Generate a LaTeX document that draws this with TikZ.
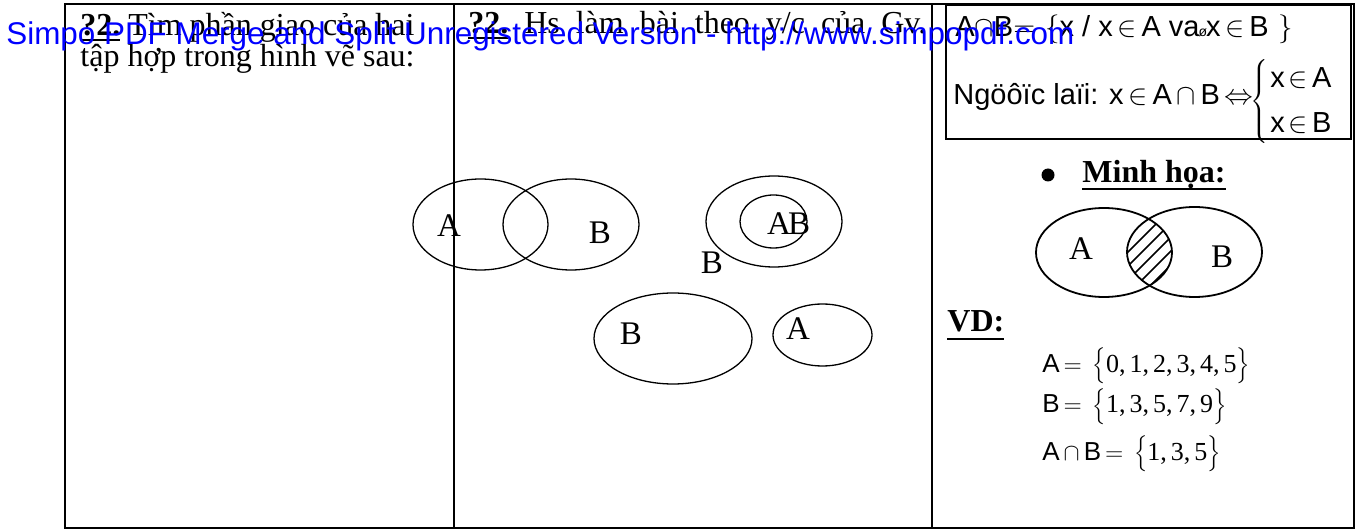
\documentclass[tikz,border=0pt]{standalone}
\usepackage{fontspec}
\setmainfont{Liberation Serif}
\newfontfamily\arialf{Liberation Sans}
\usetikzlibrary{shapes.geometric}
\definecolor{wmblue}{RGB}{0,0,255}
% underlined box: #1 = depth of the rule below the baseline
\newcommand\ulb[2]{\setbox0\hbox{#2}\rlap{\rule[-#1]{\wd0}{0.9pt}}\box0\relax}
\begin{document}
\begin{tikzpicture}[x=0.5pt,y=-0.5pt,
  grid/.style={line width=1.25pt},
  framebox/.style={line width=1pt},
  venn/.style={draw, ellipse, inner sep=0, line width=0.65pt},
  venntwo/.style={draw, ellipse, inner sep=0, line width=0.9pt},
  txt/.style={anchor=base west, inner sep=0, font=\fontsize{16}{19}\selectfont},
  lbl/.style={anchor=base, inner sep=0, font=\fontsize{16.5}{19}\selectfont},
  sx/.style={anchor=base west, inner sep=0, font=\arialf\fontsize{14.5}{17}\selectfont},
  eq/.style={anchor=base west, inner sep=0, font=\fontsize{13}{16}\selectfont},
  wm/.style={anchor=base west, inner sep=0, text=wmblue, font=\arialf\fontsize{15.7}{18}\selectfont}]
\useasboundingbox (0,0) rectangle (1356,529);

% table frame and column rules
\draw[grid] (65,4) rectangle (1354,528);
\draw[grid] (454,4) -- (454,528);
\draw[grid] (932,4) -- (932,528);

% column 1
\node[txt] (q1a) at (80,36) {\ulb{2.5pt}{\textbf{?2.}} Tìm phần giao của hai};
\node[txt] (q1b) at (80,67) {tập hợp trong hình vẽ sau:};

% column 2
\node[txt] (q2) at (468,34) {\makebox[229pt][s]{\ulb{2.5pt}{\textbf{?2.}} Hs làm bài theo y/c của Gv.}};

\node[venn, minimum width=67.5pt, minimum height=45.5pt] (eA1) at (480.5,224.5) {};
\node[venn, minimum width=68pt, minimum height=45.5pt] (eB1) at (571,224.5) {};
\node[venn, minimum width=68pt, minimum height=45.5pt] (eBo) at (774,221.5) {};
\node[venn, minimum width=33.5pt, minimum height=26.5pt] (eAi) at (773.5,221.5) {};
\node[venn, minimum width=79pt, minimum height=45.5pt] (eB2) at (673,338.5) {};
\node[venn, minimum width=49.5pt, minimum height=31pt] (eA2) at (822.5,335) {};

\node[lbl] (lA1) at (449,237) {A};
\node[lbl] (lB1) at (600,244) {B};
\node[lbl] (lAi) at (779,235) {A};
\node[lbl] (lBi) at (799,235) {B};
\node[lbl] (lBo) at (712,274) {B};
\node[lbl] (lB2) at (631,345) {B};
\node[lbl] (lA2) at (798,340) {A};

% column 3: definition box
\draw[framebox] (946,5) rectangle (1351,139);
\node[sx] (def) at (955,37) {A$\cap$B$=$\kern5pt$\Bigl\{$x / x$\,\in\,$A va\kern-0.5pt{\scriptsize ø}\kern-0.5pt x$\,\in\,$B\kern5pt$\Bigr\}$};
\node[sx] (conv) at (953,105) {Ngöôïc laïi: x$\,\in\,$A$\,\cap\,$B$\,\Leftrightarrow$};
\node[inner sep=0, font=\fontsize{14.5}{17}\selectfont] (brace) at (1261,103) {$\left\{\vrule height 19pt depth 19pt width 0pt\right.$};
\node[sx] (c1) at (1270,88) {x\kern2pt$\in$\kern2pt A};
\node[sx] (c2) at (1270,133) {x\kern2pt$\in$\kern2pt B};

% illustration
\node[circle, fill, inner sep=0, minimum size=6.5pt] (bul) at (1048,175) {};
\node[txt] (mh) at (1082,183) {\ulb{3.5pt}{\textbf{Minh họa:}}};

\node[venntwo, minimum width=68pt, minimum height=44.5pt] (vA) at (1104,252.5) {};
\node[venntwo, minimum width=67.5pt, minimum height=45pt] (vB) at (1194.5,252) {};
\begin{scope}
  \clip (1104,252.5) ellipse [x radius=34pt, y radius=22.25pt];
  \clip (1194.5,252) ellipse [x radius=33.75pt, y radius=22.5pt];
  \foreach \c in {1380,1394,1408,1422,1436}
    \draw[line width=0.75pt] (\c-200,200) -- (\c-300,300);
\end{scope}
\node[lbl] (vlA) at (1081,260) {A};
\node[lbl] (vlB) at (1222,268) {B};

% example
\node[txt] (vd) at (947,332) {\ulb{4pt}{\textbf{VD:}}};
\node[eq] (eq1) at (1042,372) {{\arialf A}$\,=\,\Bigl\{$0,\kern2pt1,\kern2pt2,\kern2pt3,\kern2pt4,\kern2pt5$\Bigr\}$};
\node[eq] (eq2) at (1042,413) {{\arialf B}$\,=\,\Bigl\{$1,\kern2pt3,\kern2pt5,\kern2pt7,\kern2pt9$\Bigr\}$};
\node[eq] (eq3) at (1042,460) {{\arialf A}$\,\cap\,${\arialf B}$\,=\,\Bigl\{$1,\kern2pt3,\kern2pt5$\Bigr\}$};

% overlay line
\node[wm] (wmark) at (6,45) {Simpo PDF Merge and Split Unregistered Version - http://www.simpopdf.com};
\end{tikzpicture}
\end{document}
